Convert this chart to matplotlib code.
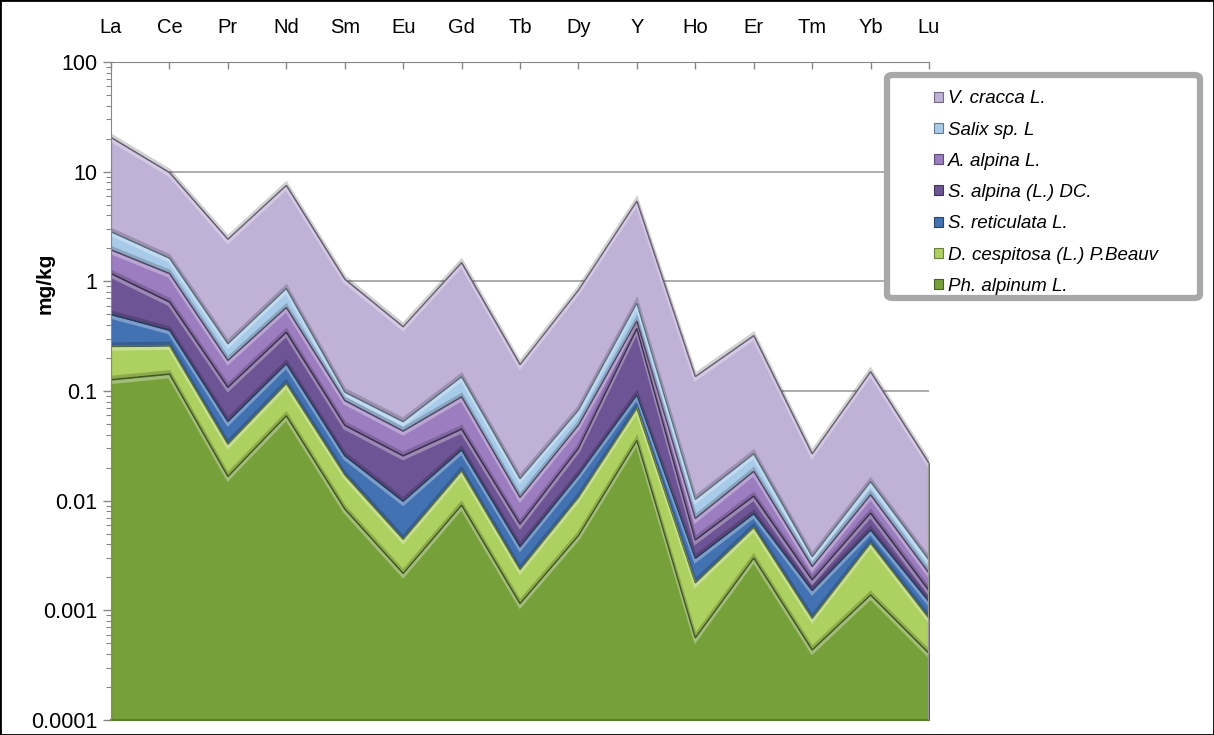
import numpy as np
import matplotlib
matplotlib.use("Agg")
import matplotlib.pyplot as plt
import matplotlib.patheffects as pe
from matplotlib.patches import FancyBboxPatch, Rectangle
from matplotlib.ticker import LogLocator, FuncFormatter, NullFormatter, FixedLocator
from matplotlib.colors import to_rgb

# Rare earth elements (plus Y) concentrations, mg/kg, per plant species
elements = ["La", "Ce", "Pr", "Nd", "Sm", "Eu", "Gd", "Tb", "Dy", "Y",
            "Ho", "Er", "Tm", "Yb", "Lu"]

ph_alpinum = [0.127, 0.143, 0.0166, 0.0594, 0.0084, 0.00217, 0.0091, 0.00115,
              0.0048, 0.0354, 0.00056, 0.0030, 0.000435, 0.00138, 0.000405]
d_cespitosa = [0.129, 0.117, 0.0161, 0.0576, 0.0088, 0.00227, 0.0096, 0.0012,
               0.0059, 0.0343, 0.00122, 0.0027, 0.00041, 0.00272, 0.00044]
s_reticulata = [0.244, 0.10, 0.020, 0.060, 0.0085, 0.00543, 0.0103, 0.00145,
                0.0065, 0.0223, 0.0012, 0.0019, 0.00067, 0.0013, 0.000355]
s_alpina = [0.68, 0.29, 0.0553, 0.166, 0.023, 0.0158, 0.016, 0.0023,
            0.0128, 0.279, 0.0014, 0.0034, 0.00038, 0.0023, 0.00031]
a_alpina = [0.76, 0.53, 0.082, 0.234, 0.0333, 0.0175, 0.0436, 0.0046,
            0.0187, 0.064, 0.0025, 0.0075, 0.00061, 0.0036, 0.00067]
salix_sp = [0.90, 0.45, 0.080, 0.283, 0.016, 0.0095, 0.0464, 0.0052,
            0.0183, 0.20, 0.0034, 0.0083, 0.00058, 0.0036, 0.0007]
v_cracca = [17.7, 8.2, 2.15, 6.64, 0.95, 0.333, 1.345, 0.158,
            0.763, 4.75, 0.125, 0.293, 0.0236, 0.135, 0.019]

species = ["Ph. alpinum L.", "D. cespitosa (L.) P.Beauv", "S. reticulata L.",
           "S. alpina (L.) DC.", "A. alpina L.", "Salix sp. L", "V. cracca L."]
series = [ph_alpinum, d_cespitosa, s_reticulata, s_alpina, a_alpina,
          salix_sp, v_cracca]
colors = ["#76a03a", "#add160", "#4272b2", "#6d5494", "#9b7dc0",
          "#a9cbea", "#c0b1d7"]


def shade(c, f):
    r = np.array(to_rgb(c))
    return tuple(np.clip(r * f, 0, 1))


def tint(c, f):
    r = np.array(to_rgb(c))
    return tuple(r + (1 - r) * f)


plt.rcParams["font.family"] = ["Liberation Sans", "DejaVu Sans"]

W, H = 1214, 735
fig = plt.figure(figsize=(W / 100, H / 100), dpi=100)
ax = fig.add_axes([111 / W, 1 - 720 / H, (929 - 111) / W, (720 - 62) / H])

x = np.arange(len(elements))
ylo = 1e-4
cum = np.cumsum(np.array(series), axis=0)
bottoms = np.vstack([np.full(len(x), ylo), cum[:-1]])

handles = []
for i in range(len(series)):
    h = ax.fill_between(x, bottoms[i], cum[i], facecolor=colors[i],
                        edgecolor=shade(colors[i], 0.6), linewidth=0.8,
                        zorder=2, label=species[i])
    handles.append(h)

# bevelled boundaries between stacked layers
for i in reversed(range(len(series))):
    ax.plot(x, cum[i], color=shade(colors[i], 0.55), lw=1.0, zorder=3,
            solid_joinstyle="miter",
            path_effects=[
                pe.SimpleLineShadow(offset=(0, 1.6), shadow_color="black",
                                    alpha=0.18, linewidth=2.4),
                pe.SimpleLineShadow(offset=(0, -2.0), shadow_color=tint(colors[i], 0.35),
                                    alpha=0.9, linewidth=2.4),
                pe.Normal()])

ax.vlines(x[-1], ylo, cum[-1][-1], color="#9a9a9a", lw=1.6, zorder=3)

ax.set_yscale("log")
ax.set_ylim(ylo, 100)
ax.set_xlim(x[0], x[-1])

ax.yaxis.set_major_locator(LogLocator(base=10, numticks=10))
ax.yaxis.set_minor_locator(LogLocator(base=10, subs=np.arange(2, 10), numticks=20))
ax.yaxis.set_major_formatter(FuncFormatter(lambda v, p: f"{v:g}"))
ax.yaxis.set_minor_formatter(NullFormatter())
ax.tick_params(axis="y", which="major", direction="out", length=6, width=1,
               color="#868686", labelsize=15.5, pad=4)
ax.tick_params(axis="y", which="minor", direction="out", length=3.5, width=0.8,
               color="#868686")

ax.xaxis.set_ticks_position("top")
ax.xaxis.set_major_locator(FixedLocator(x))
ax.set_xticklabels(elements)
ax.tick_params(axis="x", which="major", direction="in", length=5, width=1,
               color="#868686", labelsize=14.5, pad=18)

ax.yaxis.grid(True, which="major", color="#a6a6a6", lw=1.3)
ax.set_axisbelow(True)

ax.spines["right"].set_visible(False)
ax.spines["bottom"].set_color("#5b7a31")
ax.spines["bottom"].set_linewidth(1.5)
ax.spines["left"].set_color("#868686")
ax.spines["top"].set_color("#868686")
ax.spines["left"].set_zorder(4)

ax.set_ylabel("mg/kg", fontsize=15, fontweight="bold", va="center")
ax.yaxis.set_label_coords((45 - 111) / 818, (720 - 283) / 658)

# legend panel
frame = FancyBboxPatch((887 / W, 1 - 298 / H), 313 / W, 223 / H,
                       boxstyle="round,pad=0,rounding_size=0.005",
                       transform=fig.transFigure, facecolor="white",
                       edgecolor="#a8a8a8", linewidth=4.5, zorder=4,
                       path_effects=[pe.withSimplePatchShadow(offset=(1.5, -1.5),
                                                              alpha=0.35)])
fig.add_artist(frame)

leg = fig.legend(handles[::-1], species[::-1], loc="upper left",
                 bbox_to_anchor=(925 / W, 1 - 81 / H),
                 bbox_transform=fig.transFigure, frameon=False, borderpad=0,
                 prop={"style": "italic", "size": 13.5},
                 handlelength=0.45, handleheight=0.45, handletextpad=0.25,
                 labelspacing=0.76)
leg.set_zorder(6)

fig.add_artist(Rectangle((0, 0), 1, 1, transform=fig.transFigure, fill=False,
                         edgecolor="black", linewidth=2, zorder=10))

fig.savefig("out.png", dpi=100)
